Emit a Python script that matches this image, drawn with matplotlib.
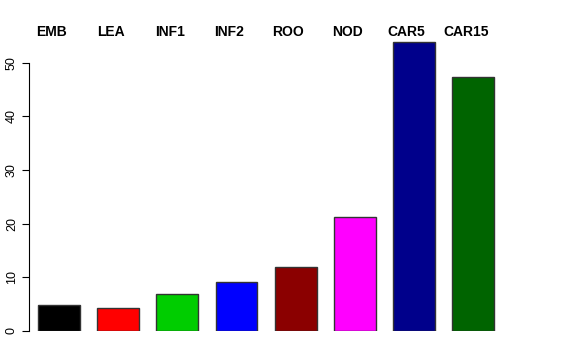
import numpy as np
import matplotlib.pyplot as plt

plt.rcParams['font.family'] = ['Liberation Sans', 'DejaVu Sans']

# Data
samples = ['EMB', 'LEA', 'INF1', 'INF2', 'ROO', 'NOD', 'CAR5', 'CAR15']
values = [4.8, 4.35, 6.9, 9.1, 12.0, 21.2, 53.8, 47.3]
colors = ['black', 'red', '#00CD00', 'blue', '#8B0000', 'magenta', '#00008B', '#006400']
yticks = [0, 10, 20, 30, 40, 50]

fig = plt.figure(figsize=(5.76, 3.6), dpi=100)
ax = fig.add_axes([29 / 576, 29 / 360, (520 - 29) / 576, (331 - 36) / 360])

# R barplot style positions
xpos = 0.7 + 1.2 * np.arange(len(samples))
ax.bar(xpos, values, width=0.85, color=colors, edgecolor='#333333', linewidth=1.0)

ax.set_xlim(0.092, 10.05)
ax.set_ylim(0, 55)

for s in ['top', 'right', 'bottom']:
    ax.spines[s].set_visible(False)
ax.spines['left'].set_bounds(0, 50)
ax.spines['left'].set_linewidth(0.8)
ax.set_xticks([])
ax.set_yticks(yticks)
ax.set_yticklabels([str(t) for t in yticks], rotation=90, va='center', fontsize=9)
ax.tick_params(axis='y', length=5, width=0.8, pad=3)

# sample names along the top
trans = ax.get_xaxis_transform()
for x, name in zip(xpos, samples):
    ax.text(x - 0.15, 1.015, name, transform=trans, ha='center', va='center',
            fontsize=10, fontweight='bold')

fig.savefig('out.png', dpi=100)
